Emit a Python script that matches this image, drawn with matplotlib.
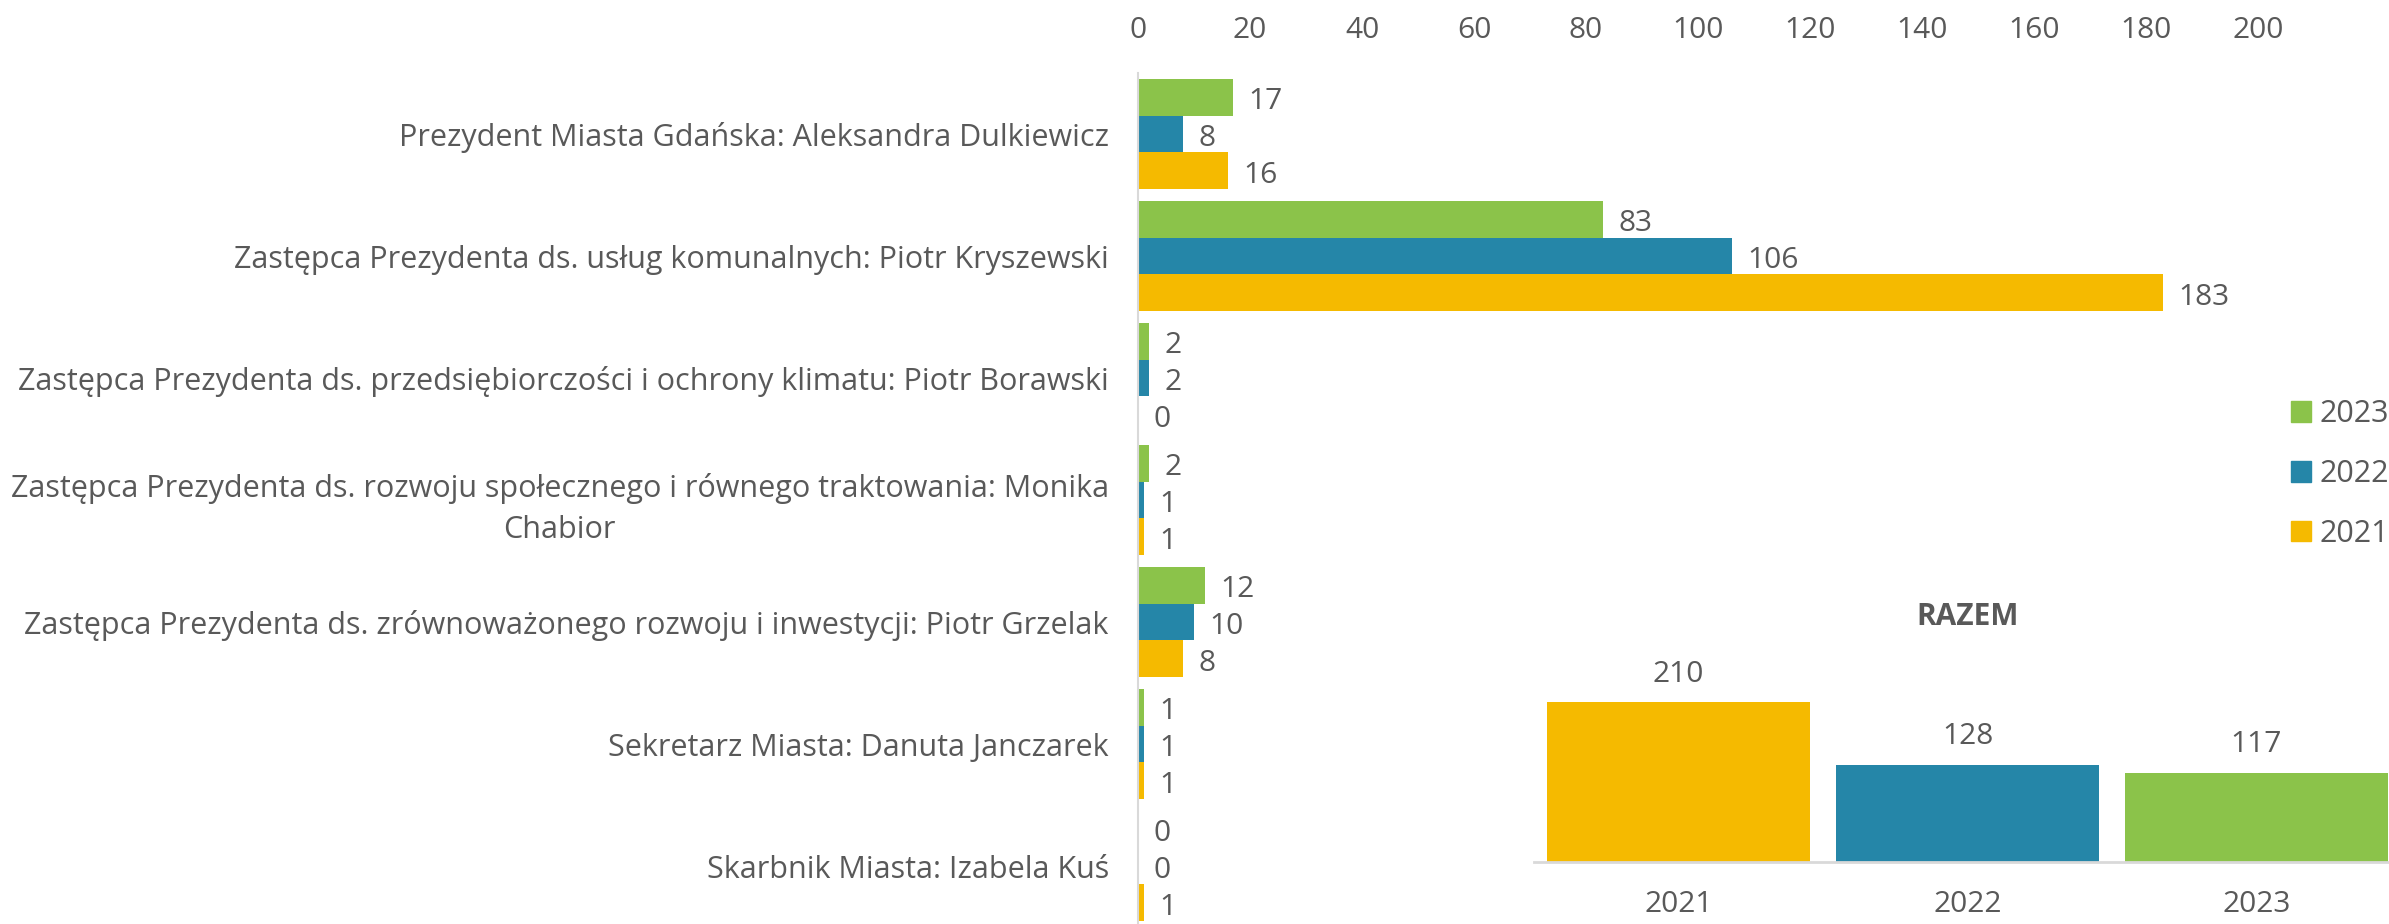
import matplotlib
matplotlib.use('Agg')
import matplotlib.pyplot as plt
from matplotlib.patches import Patch
import numpy as np

plt.rcParams['font.family'] = ['Open Sans', 'DejaVu Sans']

categories = [
    "Prezydent Miasta Gdańska: Aleksandra Dulkiewicz",
    "Zastępca Prezydenta ds. usług komunalnych: Piotr Kryszewski",
    "Zastępca Prezydenta ds. przedsiębiorczości i ochrony klimatu: Piotr Borawski",
    "Zastępca Prezydenta ds. rozwoju społecznego i równego traktowania: Monika\nChabior",
    "Zastępca Prezydenta ds. zrównoważonego rozwoju i inwestycji: Piotr Grzelak",
    "Sekretarz Miasta: Danuta Janczarek",
    "Skarbnik Miasta: Izabela Kuś",
]
v2023 = [17, 83, 2, 2, 12, 1, 0]
v2022 = [8, 106, 2, 1, 10, 1, 0]
v2021 = [16, 183, 0, 1, 8, 1, 1]
x_ticks = [0, 20, 40, 60, 80, 100, 120, 140, 160, 180, 200]

total_years = ["2021", "2022", "2023"]
totals = [210, 128, 117]

GREEN = "#8BC34A"
BLUE = "#2586A8"
YELLOW = "#F5BA00"
TEXT = "#595959"
AXIS = "#D9D9D9"
FS = 21.5

W, H = 2389, 924
fig = plt.figure(figsize=(W / 100, H / 100), dpi=100)

# main horizontal bar chart
ax = fig.add_axes([1138 / W, 1 - 927 / H, 1120 / W, 854 / H])
ax.set_facecolor('none')
y = np.arange(len(categories))
bh = 0.3
c23 = ax.barh(y - bh, v2023, height=bh, color=GREEN)
c22 = ax.barh(y, v2022, height=bh, color=BLUE)
c21 = ax.barh(y + bh, v2021, height=bh, color=YELLOW)
for c in (c23, c22, c21):
    for t in ax.bar_label(c, padding=11, color=TEXT, fontsize=FS):
        t.xyann = (11, -3.2)
ax.set_ylim(len(categories) - 0.5, -0.5)
ax.set_xlim(0, 200)
ax.xaxis.tick_top()
ax.set_xticks(x_ticks)
ax.tick_params(axis='x', length=0, pad=20, labelsize=FS, labelcolor=TEXT)
ax.set_yticks(y)
ax.set_yticklabels(categories)
ax.tick_params(axis='y', length=0, pad=21, labelsize=22, labelcolor=TEXT)
for lbl in ax.get_yticklabels():
    lbl.set_multialignment('center')
    lbl.set_linespacing(1.47)
for s in ('top', 'right', 'bottom'):
    ax.spines[s].set_visible(False)
ax.spines['left'].set_color(AXIS)
ax.spines['left'].set_linewidth(1.5)

# legend
handles = [Patch(color=GREEN), Patch(color=BLUE), Patch(color=YELLOW)]
fig.legend(handles, ["2023", "2022", "2021"], loc='center left',
           bbox_to_anchor=(2291 / W, 1 - 474 / H), bbox_transform=fig.transFigure,
           frameon=False, fontsize=22, labelcolor=TEXT, handlelength=0.66,
           handleheight=0.66, handletextpad=0.28, labelspacing=0.97,
           borderpad=0, borderaxespad=0)

# inset totals chart
ax2 = fig.add_axes([1534 / W, 1 - 862 / H, 867 / W, 190 / H])
ax2.set_facecolor('none')
xb = np.arange(len(totals))
bars = ax2.bar(xb, totals, width=0.91, color=[YELLOW, BLUE, GREEN])
ax2.bar_label(bars, padding=10, color=TEXT, fontsize=FS)
ax2.set_xlim(-0.5, 2.5)
ax2.set_ylim(0, 250)
ax2.set_xticks(xb)
ax2.set_xticklabels(total_years)
ax2.set_yticks([])
ax2.tick_params(axis='x', length=0, pad=20.5, labelsize=FS, labelcolor=TEXT)
for s in ('top', 'right', 'left'):
    ax2.spines[s].set_visible(False)
ax2.spines['bottom'].set_color(AXIS)
ax2.spines['bottom'].set_linewidth(2)
ax2.text(0.5, (862 - 617) / 190, "RAZEM", transform=ax2.transAxes,
         ha='center', va='center', fontsize=FS, fontweight='bold', color=TEXT)

fig.savefig("out.png", dpi=100)
